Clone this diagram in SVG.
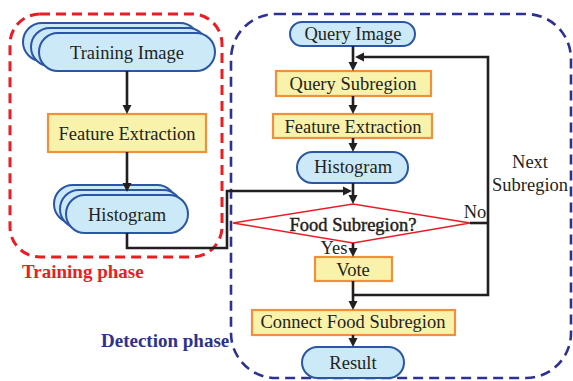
<svg xmlns="http://www.w3.org/2000/svg" xmlns:xlink="http://www.w3.org/1999/xlink" width="573" height="381" viewBox="0 0 573 381">
  <style>
    .pill { fill: #cbe9f6; stroke: #2b55a5; stroke-width: 2; }
    .box { fill: #f8f2aa; stroke: #f0903c; stroke-width: 2.2; }
    .conn { fill: none; stroke: #231f20; stroke-width: 2.6; }
  </style>
  <defs>
    <path id="head" d="M-9,-4.5 L0,0 L-9,4.5 Z" fill="#231f20"/>
  </defs>
  <rect width="573" height="381" fill="#ffffff"/>

  <!-- phase frames -->
  <g id="training-frame">
    <rect x="10" y="14" width="212" height="243" rx="30" fill="none" stroke="#ec1c24" stroke-width="3" stroke-dasharray="10 6"/>
    <text x="22" y="278" fill="#ec1c24" font-family="Liberation Serif" font-size="19" font-weight="bold">Training phase</text>
  </g>
  <g id="detection-frame">
    <rect x="231" y="14" width="340" height="364" rx="45" fill="none" stroke="#2e3192" stroke-width="2.6" stroke-dasharray="10 6"/>
    <text x="101" y="347" fill="#2e3192" font-family="Liberation Serif" font-size="19" font-weight="bold">Detection phase</text>
  </g>

  <!-- training nodes -->
  <g id="training-image">
    <rect class="pill" x="23" y="23" width="176" height="38" rx="19"/>
    <rect class="pill" x="31" y="28" width="176" height="38" rx="19"/>
    <rect class="pill" x="39" y="33" width="176" height="38" rx="19"/>
    <text x="127" y="59" font-family="Liberation Serif" font-size="18.5" fill="#231f20" text-anchor="middle">Training Image</text>
  </g>
  <g id="training-feature">
    <rect class="box" x="48" y="114" width="158" height="38"/>
    <text x="127" y="140" font-family="Liberation Serif" font-size="18.5" fill="#231f20" text-anchor="middle">Feature Extraction</text>
  </g>
  <g id="training-histogram">
    <rect class="pill" x="54" y="185" width="122" height="38" rx="19"/>
    <rect class="pill" x="60" y="190" width="122" height="38" rx="19"/>
    <rect class="pill" x="66" y="195" width="122" height="38" rx="19"/>
    <text x="127" y="221" font-family="Liberation Serif" font-size="18.5" fill="#231f20" text-anchor="middle">Histogram</text>
  </g>

  <!-- detection nodes -->
  <g id="query-image">
    <rect class="pill" x="290" y="22" width="125" height="24" rx="12"/>
    <text x="353" y="40" font-family="Liberation Serif" font-size="18.5" fill="#231f20" text-anchor="middle">Query Image</text>
  </g>
  <g id="query-subregion">
    <rect class="box" x="276" y="71" width="155" height="25"/>
    <text x="353" y="90" font-family="Liberation Serif" font-size="18.5" fill="#231f20" text-anchor="middle">Query Subregion</text>
  </g>
  <g id="query-feature">
    <rect class="box" x="273" y="114" width="159" height="24"/>
    <text x="353" y="133" font-family="Liberation Serif" font-size="18.5" fill="#231f20" text-anchor="middle">Feature Extraction</text>
  </g>
  <g id="query-histogram">
    <rect class="pill" x="297" y="152" width="111" height="31" rx="15.5"/>
    <text x="353" y="173" font-family="Liberation Serif" font-size="18.5" fill="#231f20" text-anchor="middle">Histogram</text>
  </g>
  <g id="food-decision">
    <polygon points="233,223 353,204 470,223 353,243" fill="#ffffff" stroke="#ec1c24" stroke-width="1.5"/>
    <text x="353" y="231" font-family="Liberation Serif" font-size="18.5" fill="#231f20" stroke="#231f20" stroke-width="0.45" text-anchor="middle">Food Subregion?</text>
  </g>
  <g id="vote">
    <rect class="box" x="315" y="257" width="77" height="24"/>
    <text x="353" y="276" font-family="Liberation Serif" font-size="18.5" fill="#231f20" text-anchor="middle">Vote</text>
  </g>
  <g id="connect-food">
    <rect class="box" x="252" y="310" width="203" height="25"/>
    <text x="353" y="328" font-family="Liberation Serif" font-size="18.5" fill="#231f20" text-anchor="middle">Connect Food Subregion</text>
  </g>
  <g id="result">
    <rect class="pill" x="302" y="347" width="102" height="31" rx="15.5"/>
    <text x="353" y="369" font-family="Liberation Serif" font-size="18.5" fill="#231f20" text-anchor="middle">Result</text>
  </g>

  <!-- connectors -->
  <g id="connectors">
    <polyline class="conn" points="127,71 127,106"/>
    <use xlink:href="#head" href="#head" transform="translate(127,114) rotate(90)"/>
    <polyline class="conn" points="127,152 127,184"/>
    <use xlink:href="#head" href="#head" transform="translate(127,192) rotate(90)"/>
    <polyline class="conn" points="127,233 127,248 227,248 227,191 344,191"/>
    <use xlink:href="#head" href="#head" transform="translate(352,191)"/>
    <polyline class="conn" points="353,46 353,63"/>
    <use xlink:href="#head" href="#head" transform="translate(353,71) rotate(90)"/>
    <polyline class="conn" points="353,96 353,106"/>
    <use xlink:href="#head" href="#head" transform="translate(353,114) rotate(90)"/>
    <polyline class="conn" points="353,138 353,144"/>
    <use xlink:href="#head" href="#head" transform="translate(353,152) rotate(90)"/>
    <polyline class="conn" points="353,183 353,196"/>
    <use xlink:href="#head" href="#head" transform="translate(353,204) rotate(90)"/>
    <polyline class="conn" points="353,243 353,249"/>
    <use xlink:href="#head" href="#head" transform="translate(353,257) rotate(90)"/>
    <polyline class="conn" points="353,281 353,302"/>
    <use xlink:href="#head" href="#head" transform="translate(353,310) rotate(90)"/>
    <polyline class="conn" points="353,335 353,339"/>
    <use xlink:href="#head" href="#head" transform="translate(353,347) rotate(90)"/>
    <polyline class="conn" points="353,295 488,295 488,57 363,57"/>
    <use xlink:href="#head" href="#head" transform="translate(355,57) rotate(180)"/>
    <polyline class="conn" points="470,223 488,223"/>
    <text x="475" y="218" font-family="Liberation Serif" font-size="18.5" fill="#231f20" text-anchor="middle">No</text>
    <text x="334" y="254" font-family="Liberation Serif" font-size="18.5" fill="#231f20" text-anchor="middle">Yes</text>
    <text x="530" y="168" font-family="Liberation Serif" font-size="18.5" fill="#231f20" text-anchor="middle">Next</text>
    <text x="530" y="191" font-family="Liberation Serif" font-size="18.5" fill="#231f20" text-anchor="middle">Subregion</text>
  </g>
</svg>
